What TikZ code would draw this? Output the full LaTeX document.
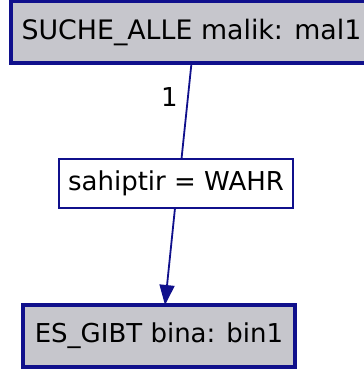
\documentclass[tikz,border=0pt]{standalone}
\usepackage{fontspec}
\setmainfont{DejaVu Sans}
\usetikzlibrary{arrows.meta}
\definecolor{edgeblue}{RGB}{16,16,140}
\definecolor{boxgray}{RGB}{198,198,204}
\begin{document}
\begin{tikzpicture}[x=1pt,y=-1pt,
  lbl/.style={font=\fontsize{26}{30}\selectfont, text=black},
  objbox/.style={draw=edgeblue, fill=boxgray, line width=4pt, inner sep=0pt,
    lbl, rectangle, outer sep=0pt},
  condbox/.style={draw=edgeblue, fill=white, line width=1.8pt, inner sep=0pt,
    lbl, rectangle, outer sep=0pt},
  link/.style={draw=edgeblue, line width=1.8pt}]
  \useasboundingbox (0,0) rectangle (364,376);
  \clip (0,0) rectangle (364,376);
  \fill[white] (0,0) rectangle (364,376);

  % objects and condition
  \node[objbox, minimum width=361pt, minimum height=62pt,
    font=\fontsize{26.8}{30}\selectfont] (top) at (191.5,32)
    {SUCHE\_ALLE malik: mal1};
  \node[condbox, minimum width=234pt, minimum height=49pt] (mid) at (176,183.5)
    {sahiptir = WAHR};
  \node[objbox, minimum width=272pt, minimum height=62pt] (bot) at (159,336)
    {ES\_GIBT bina: bin1};

  % connectors
  \draw[link] (top.south) -- node[lbl, left=6pt, pos=0.35] (one) {1}
    ([xshift=-10pt]mid.north -| top.south);
  \draw[link, -{Triangle[length=20pt, width=15pt]}]
    ([xshift=-1pt]mid.south) -- ([xshift=6pt]bot.north);
\end{tikzpicture}
\end{document}
